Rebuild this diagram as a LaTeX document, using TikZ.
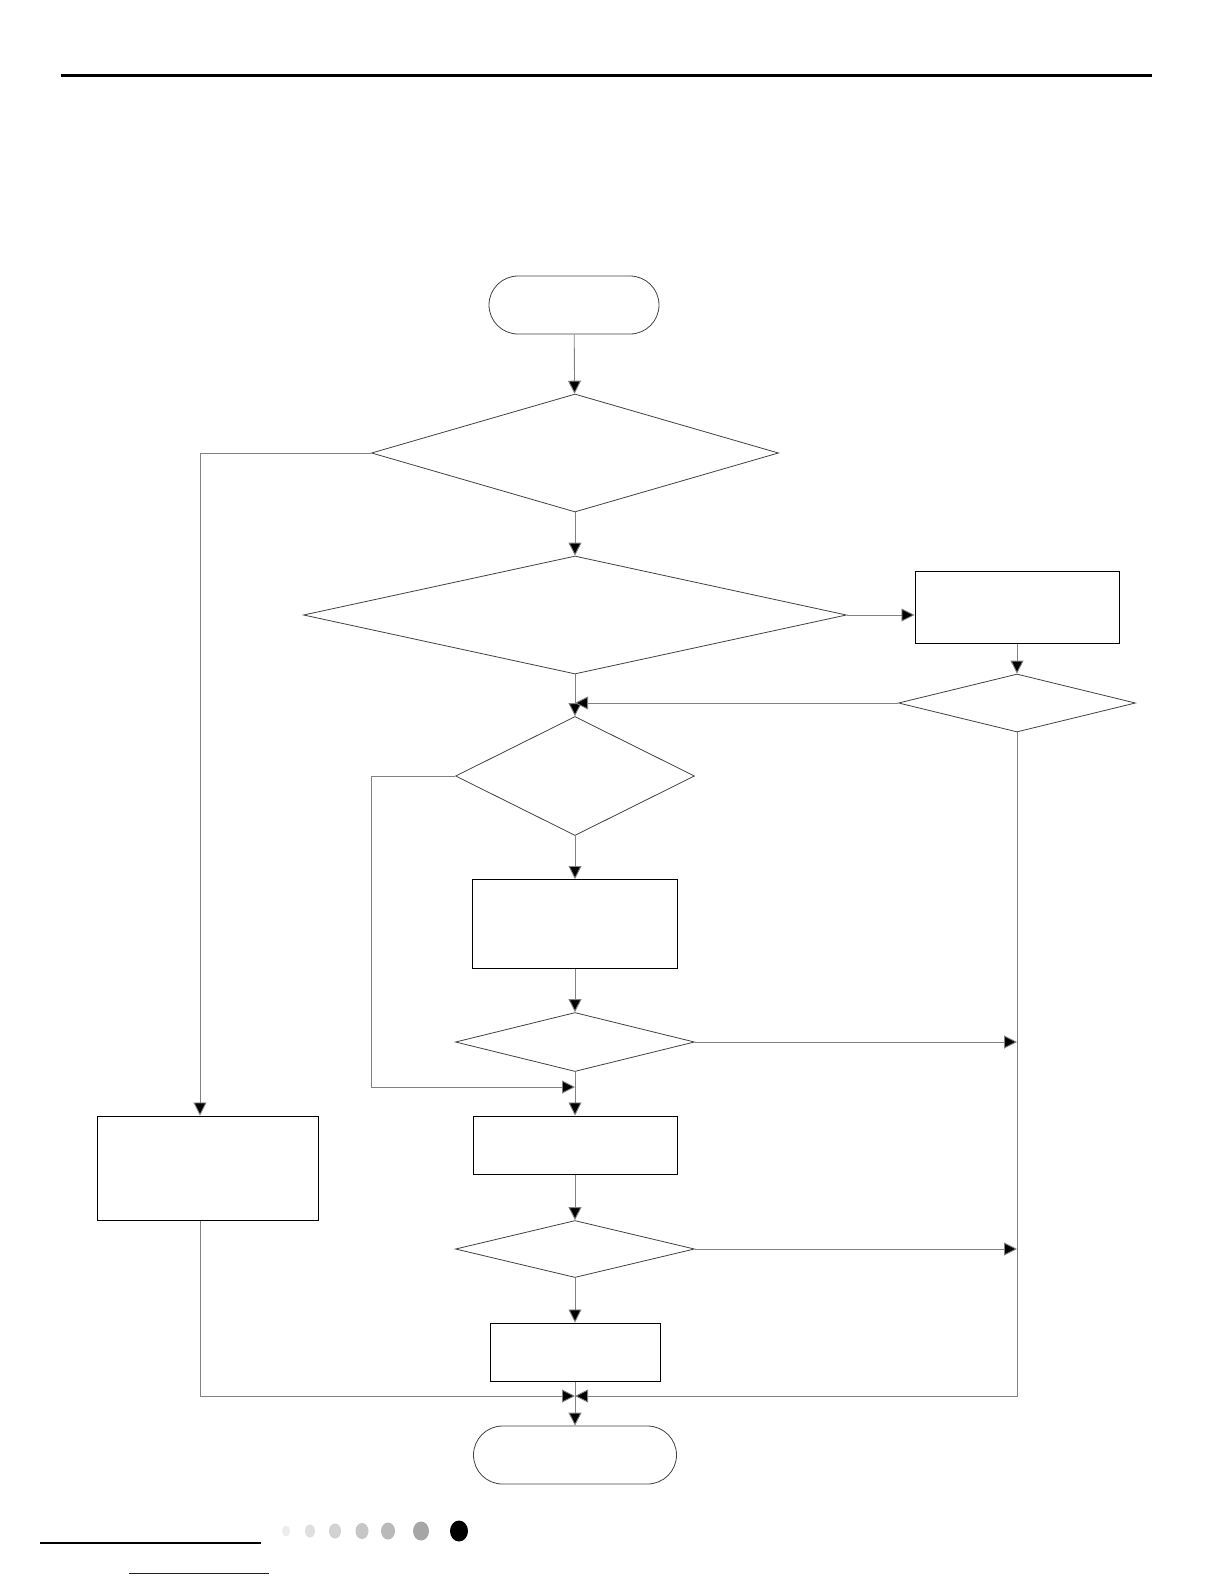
\documentclass[tikz,border=0pt]{standalone}
\usepackage{tikz}
\usetikzlibrary{arrows.meta,shapes.geometric,calc}
\definecolor{linkblue}{RGB}{20,20,140}
\definecolor{lineg}{RGB}{130,130,130}

\tikzset{
  termbox/.style={draw=black!75, line width=0.8pt, minimum width=#1, minimum height=58pt, rounded corners=29pt, inner sep=0pt},
  actbox/.style={draw=black, line width=1pt, inner sep=0pt},
  testbox/.style={draw=black!75, line width=0.8pt, diamond, inner sep=0pt},
  arr/.style={draw=lineg, line width=0.9pt, -{Triangle[length=13pt,width=13pt,fill=black]}},
  wire/.style={draw=lineg, line width=0.9pt}
}

\begin{document}
\begin{tikzpicture}[x=1pt, y=-1pt]
  \useasboundingbox (0,0) rectangle (1224,1584);
  % page header / footer
  \draw[line width=3pt] (61,76) -- (1152,76);
  \draw[line width=2.5pt] (40,1543) -- (261,1543);
  \foreach \dx/\dr/\dc in {286/4/gray!15, 310/5/gray!25, 335/6/gray!35, 362/6.5/gray!45, 388/7/gray!55, 421/8/gray!70, 459/9/black}{
    \fill[\dc] (\dx,1531) ellipse ({\dr pt} and {\dr pt + 1.5pt});
  }
  \draw[linkblue, line width=0.8pt] (129,1573) -- (269,1573);

  % main column
  \node[termbox=170pt] (start) at (574,305) {};
  \node[testbox, minimum width=407pt, minimum height=118pt] (d1) at (575,453) {};
  \node[testbox, minimum width=543pt, minimum height=118pt] (d2) at (575,615) {};
  \node[testbox, minimum width=239pt, minimum height=119pt] (d4) at (575,776) {};
  \node[actbox, minimum width=205pt, minimum height=89pt] (b1) at (575,924) {};
  \node[testbox, minimum width=239pt, minimum height=59pt] (d5) at (575,1042) {};
  \node[actbox, minimum width=204pt, minimum height=58pt] (b2) at (575,1145) {};
  \node[testbox, minimum width=239pt, minimum height=57pt] (d6) at (575,1249) {};
  \node[actbox, minimum width=170pt, minimum height=58pt] (b3) at (575,1352) {};
  \node[termbox=203pt] (endn) at (575,1455) {};

  % right branch
  \node[actbox, minimum width=204pt, minimum height=72pt] (r1) at (1017,607) {};
  \node[testbox, minimum width=237pt, minimum height=58pt] (d3) at (1017,703) {};

  % left branch
  \node[actbox, minimum width=221pt, minimum height=104pt] (lbox) at (208,1168) {};

  \coordinate (lturn) at (200,453);
  \coordinate (lleft) at (371,1087);
  \coordinate (mjoin) at (575,1087);
  \coordinate (bjoin) at (575,1396);

  % connectors
  \draw[arr] (start) -- (d1);
  \draw[arr] (d1) -- (d2);
  \draw[arr] (d2) -- (d4);
  \draw[arr] (d4) -- (b1);
  \draw[arr] (b1) -- (d5);
  \draw[arr] (d5) -- (b2);
  \draw[arr] (b2) -- (d6);
  \draw[arr] (d6) -- (b3);
  \draw[arr] (b3) -- (endn);
  \draw[arr] (d2.east) -- (r1.west |- d2.east);
  \draw[arr] (r1) -- (d3);
  \draw[arr] (d3.west) -- (d4.north |- d3.west);
  \draw[arr] (d3.south) |- (bjoin);
  \draw[arr] (d5.east) -- (d3.south |- d5.east);
  \draw[arr] (d6.east) -- (d3.south |- d6.east);
  \draw[arr] (d4.west) -| (lleft) -- (mjoin);
  \draw[arr] (d1.west) -- (lturn) -- (lturn |- lbox.north);
  \draw[arr] (lturn |- lbox.south) |- (bjoin);
\end{tikzpicture}
\end{document}
